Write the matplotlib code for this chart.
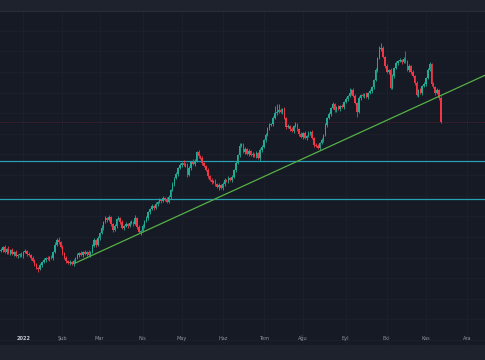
import matplotlib
matplotlib.use("Agg")
import matplotlib.pyplot as plt
import matplotlib.transforms as mtransforms
import numpy as np
import pandas as pd

# daily candles, business days starting from this date
start_date = '2021-12-16'
first_open = 14.9
closes = [
    15.0, 15.3, 14.8, 15.1, 14.7, 15.0, 14.6, 14.8, 14.4, 14.5,
    14.6, 14.4, 14.8, 14.9, 14.6, 14.5, 14.2, 13.9, 13.6, 13.2,
    13.1, 13.5, 13.8, 14.0, 14.2, 14.1, 14.3, 14.2, 14.8, 15.5,
    16.0, 15.8, 15.3, 14.7, 14.2, 13.9, 13.7, 13.8, 13.6, 13.9,
    14.2, 14.5, 14.7, 14.5, 14.8, 14.6, 14.8, 14.5, 14.8, 15.4,
    16.0, 15.5, 16.2, 16.7, 17.2, 17.8, 18.2, 18.0, 18.3, 17.6,
    17.0, 17.4, 18.1, 18.2, 17.8, 17.2, 17.4, 17.6, 17.4, 17.7,
    17.8, 17.6, 18.2, 17.3, 16.8, 16.9, 17.4, 17.9, 18.2, 18.8,
    19.1, 19.4, 19.2, 19.6, 19.8, 20.0, 19.9, 20.2, 20.1, 19.8,
    20.3, 21.0, 21.6, 22.2, 22.6, 23.2, 23.5, 23.7, 23.5, 23.6,
    22.5, 23.2, 23.8, 23.6, 23.9, 24.8, 24.4, 24.2, 23.7, 23.4,
    23.0, 22.4, 22.0, 21.8, 21.9, 21.6, 21.3, 21.5, 21.2, 21.6,
    22.0, 21.9, 22.2, 22.0, 22.3, 23.0, 23.7, 24.5, 25.4, 25.6,
    24.8, 25.1, 24.6, 24.9, 24.5, 24.6, 24.4, 24.7, 24.2, 25.0,
    25.3, 26.0, 26.5, 27.2, 27.5, 27.6, 28.2, 28.7, 28.8, 29.0,
    28.8, 29.1, 28.2, 27.3, 27.4, 27.1, 26.9, 27.4, 27.6, 27.1,
    26.6, 26.3, 26.7, 26.2, 26.4, 26.7, 26.8, 26.2, 25.5, 25.4,
    25.2, 25.7, 26.0, 26.5, 27.5, 28.2, 28.6, 29.2, 29.6, 29.0,
    29.3, 29.1, 29.4, 29.3, 29.8, 30.1, 30.4, 30.7, 31.0, 30.4,
    29.7, 28.8, 30.2, 30.5, 30.4, 30.6, 30.3, 30.7, 30.9, 31.3,
    32.0, 33.0, 34.2, 35.1, 35.2, 34.3, 33.4, 32.8, 33.0, 31.2,
    32.4, 33.2, 33.7, 33.9, 34.0, 33.8, 34.1, 33.9, 33.0, 33.4,
    32.8, 32.4, 31.7, 30.5, 31.0, 30.7, 31.4, 31.6, 32.2, 33.0,
    33.6, 31.6, 31.3, 30.7, 31.0, 30.2, 27.8,
]
# wick lengths above / below the body, in tenths of a price unit
wick_up = ("2121312121" "1212121221" "1212121213" "2312121212" "1212121212"
           "2121312121" "1212121212" "2131212121" "1212121212" "2121212131"
           "1213212121" "1212121212" "2121212131" "1212121212" "2121212786"
           "2121212121" "1212121212" "2121212121" "1212121512" "2121212121"
           "1213521212" "2121212812" "1212121212" "2121212")
wick_dn = ("1212121212" "2121212121" "3121212121" "1212121212" "2121212121"
           "1212121212" "2121212121" "1212131212" "2121212121" "1212121212"
           "2121212121" "1212121312" "2121212121" "1212121213" "2121212121"
           "1212121212" "2121212121" "1212121212" "2121212121" "1512121212"
           "2121212121" "1212121212" "2121212121" "1212121")

# horizontal support lines and trend line anchors
levels = [23.9, 20.1]
trend_dates = ['2022-02-10', '2022-08-11']
trend_prices = [13.7, 24.8]

month_labels = ['2022', 'Şub', 'Mar', 'Nis', 'May', 'Haz', 'Tem', 'Ağu',
                'Eyl', 'Eki', 'Kas', 'Ara']

bg = '#161a25'
up_col = '#22ab94'
dn_col = '#f23645'

c = np.array(closes)
o = np.array([first_open] + closes[:-1])
hi = np.maximum(o, c) + np.array([int(ch) for ch in wick_up]) / 10
lo = np.minimum(o, c) - np.array([int(ch) for ch in wick_dn]) / 10
n = len(c)
x = np.arange(n)

all_days = pd.bdate_range(start_date, '2022-12-31')
month_pos = []
for m in range(1, 13):
    first = all_days[(all_days.year == 2022) & (all_days.month == m)][0]
    month_pos.append(all_days.get_loc(first))

fig = plt.figure(figsize=(4.852, 3.602), dpi=100, facecolor='#1e222d')
ax = fig.add_axes([0, 15 / 360, 1, 334 / 360])
ax.set_facecolor(bg)

ax.set_xlim(-0.5, 259.8)
ax.set_ylim(5.5, 38.9)

# grid
ax.set_xticks(month_pos)
ax.set_yticks(np.arange(36.9, 5.5, -2.06))
ax.tick_params(length=0, labelbottom=False, labelleft=False)
ax.grid(color='#1c212d', linewidth=0.6)
ax.set_axisbelow(True)
for s in ['left', 'right', 'bottom']:
    ax.spines[s].set_visible(False)
ax.spines['top'].set_color('#2a2e39')
ax.spines['top'].set_linewidth(0.8)

# support lines
for lv in levels:
    ax.axhline(lv, color='#26a0b2', linewidth=0.9, zorder=2)

# candles
colors = np.where(c >= o, up_col, dn_col)
ax.vlines(x, lo, hi, colors=colors, linewidth=0.6, zorder=3)
ax.bar(x, np.maximum(np.abs(c - o), 0.08), bottom=np.minimum(o, c),
       width=0.8, color=colors, linewidth=0, zorder=4)

# last price line
ax.axhline(c[-1], color=dn_col, alpha=0.3, linewidth=0.6,
           linestyle=(0, (1, 1)), zorder=1)

# trend line from first anchor to the right edge
tx = [all_days.get_loc(pd.Timestamp(d)) for d in trend_dates]
slope = (trend_prices[1] - trend_prices[0]) / (tx[1] - tx[0])
x_end = ax.get_xlim()[1]
ax.plot([tx[0], x_end], [trend_prices[0], trend_prices[0] + slope * (x_end - tx[0])],
        color='#55b046', linewidth=0.9, zorder=5)

# time axis labels
trans = mtransforms.blended_transform_factory(ax.transData, ax.transAxes)
for pos, lab in zip(month_pos, month_labels):
    col = '#c3c6ce' if lab == '2022' else '#8f929b'
    ax.text(pos, 0.012, lab, transform=trans, ha='center', va='bottom',
            fontsize=3.6, color=col, fontweight='bold' if lab == '2022' else 'normal')

fig.savefig('out.png', dpi=100, facecolor=fig.get_facecolor())
